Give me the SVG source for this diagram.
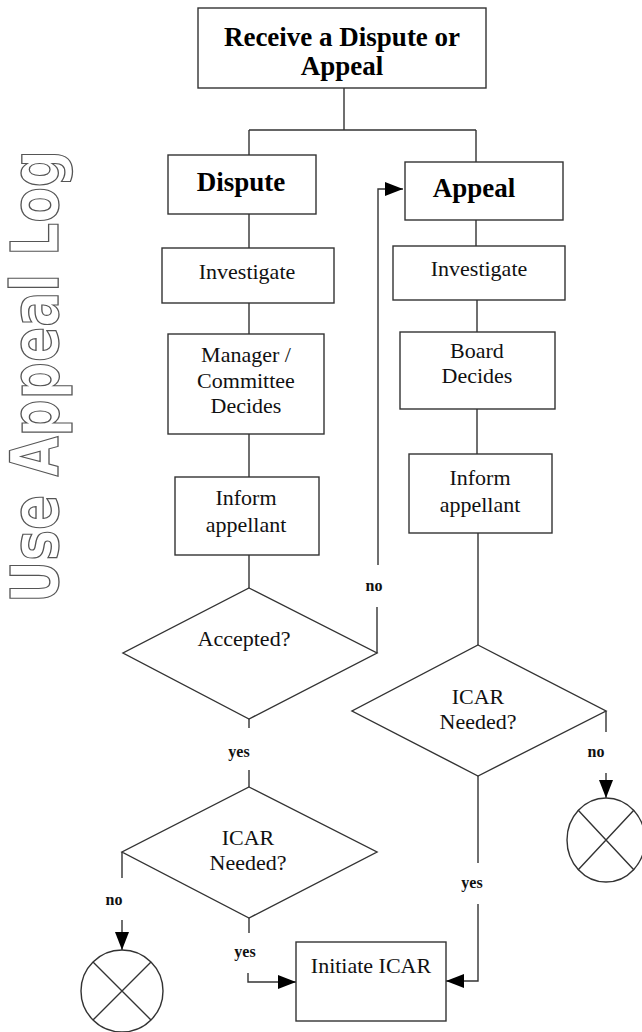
<svg xmlns="http://www.w3.org/2000/svg" width="642" height="1032" viewBox="0 0 642 1032">
<style>
.box{fill:#fff;stroke:#333;stroke-width:1.4}
.ln{fill:none;stroke:#333;stroke-width:1.4}
.hd{font-family:"Liberation Serif",serif;font-weight:bold;font-size:27px;fill:#000;text-anchor:middle}
.tx{font-family:"Liberation Serif",serif;font-size:22px;fill:#111;text-anchor:middle}
.lb{font-family:"Liberation Serif",serif;font-weight:bold;font-size:16px;fill:#111;text-anchor:middle}
.side{font-family:"DejaVu Sans","Liberation Sans",sans-serif;font-weight:bold;font-size:65px;fill:#fff;stroke:#555;stroke-width:1.3}
</style>
<defs>
<marker id="arr" markerUnits="userSpaceOnUse" markerWidth="18" markerHeight="14" viewBox="0 0 18 14" refX="18" refY="7" orient="auto">
<path d="M0,0 L18,7 L0,14 z" fill="#000"/>
</marker>
</defs>
<rect width="642" height="1032" fill="#fff"/>
<text class="side" transform="translate(58,603) rotate(-90)" textLength="453" lengthAdjust="spacingAndGlyphs">Use Appeal Log</text>
<g id="connectors">
<path class="ln" d="M344,88 V130 M249,130 H476 M249,130 V155 M476,130 V162"/>
<path class="ln" d="M249,214 V248 M249,303 V334 M249,434 V477 M249,555 V588"/>
<path class="ln" d="M377,653 V607"/>
<path class="ln" d="M378,565 V189 H403" marker-end="url(#arr)"/>
<path class="ln" d="M249,719 V728 M249,770 V787"/>
<path class="ln" d="M122,852 V878"/>
<path class="ln" d="M122,920 V950" marker-end="url(#arr)"/>
<path class="ln" d="M249,918 V933"/>
<path class="ln" d="M248,973 V982 H296" marker-end="url(#arr)"/>
<path class="ln" d="M476,220 V246 M477,300 V332 M477,409 V454 M478,533 V645"/>
<path class="ln" d="M606,711 V732"/>
<path class="ln" d="M606,773 V798" marker-end="url(#arr)"/>
<path class="ln" d="M478,776 V863"/>
<path class="ln" d="M478,904 V981 H446" marker-end="url(#arr)"/>
<text class="lb" x="374" y="591">no</text>
<text class="lb" x="239" y="757">yes</text>
<text class="lb" x="114" y="905">no</text>
<text class="lb" x="245" y="957">yes</text>
<text class="lb" x="596" y="757">no</text>
<text class="lb" x="472" y="888">yes</text>
</g>
<g id="receive">
<rect class="box" x="198" y="8" width="288" height="80"/>
<text class="hd" x="342" y="46">Receive a Dispute or</text>
<text class="hd" x="342" y="75">Appeal</text>
</g>
<g id="dispute">
<rect class="box" x="168" y="155" width="148" height="59"/>
<text class="hd" x="241" y="191">Dispute</text>
</g>
<g id="investigate-left">
<rect class="box" x="162" y="248" width="172" height="55"/>
<text class="tx" x="247" y="279">Investigate</text>
</g>
<g id="manager-decides">
<rect class="box" x="168" y="334" width="156" height="100"/>
<text class="tx" x="246" y="362">Manager /</text>
<text class="tx" x="246" y="388">Committee</text>
<text class="tx" x="246" y="413">Decides</text>
</g>
<g id="inform-left">
<rect class="box" x="175" y="477" width="144" height="78"/>
<text class="tx" x="246" y="505">Inform</text>
<text class="tx" x="246" y="532">appellant</text>
</g>
<g id="accepted">
<polygon class="box" points="249,588 377,653 249,719 123,653"/>
<text class="tx" x="244" y="646">Accepted?</text>
</g>
<g id="icar-left">
<polygon class="box" points="249,787 377,852 249,918 122,852"/>
<text class="tx" x="248" y="845">ICAR</text>
<text class="tx" x="248" y="870">Needed?</text>
</g>
<g id="end-left">
<circle class="box" cx="122" cy="991" r="41"/>
<path class="ln" d="M93,962 L151,1020 M151,962 L93,1020"/>
</g>
<g id="appeal">
<rect class="box" x="405" y="162" width="158" height="58"/>
<text class="hd" x="474" y="197">Appeal</text>
</g>
<g id="investigate-right">
<rect class="box" x="393" y="246" width="172" height="54"/>
<text class="tx" x="479" y="276">Investigate</text>
</g>
<g id="board-decides">
<rect class="box" x="400" y="332" width="155" height="77"/>
<text class="tx" x="477" y="358">Board</text>
<text class="tx" x="477" y="383">Decides</text>
</g>
<g id="inform-right">
<rect class="box" x="409" y="454" width="143" height="79"/>
<text class="tx" x="480" y="485">Inform</text>
<text class="tx" x="480" y="512">appellant</text>
</g>
<g id="icar-right">
<polygon class="box" points="478,645 606,711 478,776 352,711"/>
<text class="tx" x="478" y="704">ICAR</text>
<text class="tx" x="478" y="729">Needed?</text>
</g>
<g id="end-right">
<ellipse class="box" cx="606" cy="840" rx="39" ry="42"/>
<path class="ln" d="M578,810 L634,870 M634,810 L578,870"/>
</g>
<g id="initiate-icar">
<rect class="box" x="296" y="942" width="150" height="79"/>
<text class="tx" x="371" y="973">Initiate ICAR</text>
</g>
</svg>
